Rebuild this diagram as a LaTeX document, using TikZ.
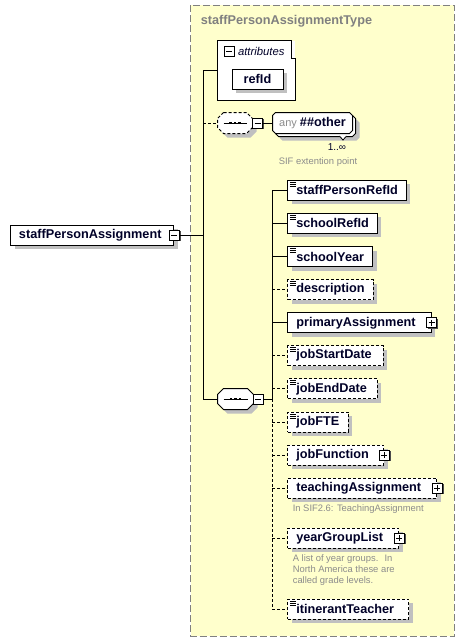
\documentclass[tikz,border=0pt]{standalone}
\usepackage{fontspec}
\setmainfont{Liberation Sans}
\usepackage{tikz}
\usetikzlibrary{positioning,shadows}
\definecolor{typeyellow}{RGB}{255,255,204}
\definecolor{framegray}{RGB}{128,128,128}
\definecolor{notegray}{RGB}{140,140,140}
\definecolor{shadowgray}{RGB}{192,192,192}
\definecolor{elemtext}{RGB}{0,0,40}
\newcommand\elemfont{\fontsize{12.7}{15}\selectfont\bfseries}
\newcommand\notefont{\fontsize{9.4}{10.7}\selectfont}
% outline with cut corners round a named node: name, x cut, y cut
\newcommand\chamferpath[3]{([xshift=#2]#1.north west) -- ([xshift=-#2]#1.north east)
  -- ([yshift=-#3]#1.north east) -- ([yshift=#3]#1.south east) -- ([xshift=-#2]#1.south east)
  -- ([xshift=#2]#1.south west) -- ([yshift=#3]#1.south west) -- ([yshift=-#3]#1.north west) -- cycle}
\hyphenpenalty=10000
\tikzset{
  boxshadow/.style={drop shadow={shadow xshift=4pt,shadow yshift=-4pt,fill=shadowgray,opacity=1}},
  elem/.style={draw, fill=white, anchor=west, minimum height=20pt, text width=#1,
    align=left, inner xsep=8.5pt, inner ysep=0pt, font=\elemfont, text=elemtext, boxshadow},
  optelem/.style={elem=#1, dash pattern=on 3pt off 2pt},
  docicon/.style={path picture={
    \foreach \dy in {2,4,6}
      \draw[solid, line width=0.7pt] ([xshift=2pt,yshift=-\dy pt]path picture bounding box.north west) -- ++(6pt,0);}},
  signbox/.style={draw, fill=white, minimum size=10pt, inner sep=0pt, line width=1pt,
    drop shadow={shadow xshift=1.2pt,shadow yshift=-1.2pt,fill=black!70,opacity=1}},
  minusbox/.style={signbox, path picture={
    \draw ([xshift=2pt]path picture bounding box.west) -- ([xshift=-2pt]path picture bounding box.east);}},
  plusbox/.style={signbox, path picture={
    \draw ([xshift=2pt]path picture bounding box.west) -- ([xshift=-2pt]path picture bounding box.east);
    \draw ([yshift=-2pt]path picture bounding box.north) -- ([yshift=2pt]path picture bounding box.south);}},
  slot/.style={minimum width=#1, minimum height=20pt, inner sep=0pt},
  castshadow/.style={fill=shadowgray, transform canvas={shift={(4pt,-4pt)}}},
  optline/.style={dash pattern=on 3pt off 2pt},
  note/.style={anchor=north west, inner sep=0pt, align=left, font=\notefont, text=notegray}
}
\begin{document}
\begin{tikzpicture}[x=1pt, y=-1pt, line width=1pt]
\useasboundingbox (0,0) rectangle (465,641);
% complex type frame
\draw[fill=typeyellow, draw=framegray, dash pattern=on 7pt off 3pt] (190.5,5) rectangle (454,636);
\node[anchor=west, font=\fontsize{12.7}{15}\selectfont\bfseries, text=framegray] (typename) at (197,21.5) {staffPersonAssignmentType};

% root element
\node[elem=146.3] (spa) at (10,235) {staffPersonAssignment};
\node[minusbox] (spamin) at (spa.east) {};

% attributes group
\node[fill=white, minimum width=77pt, minimum height=59pt, inner sep=0pt] (attrs) at (256.5,70.5) {};
\draw (attrs.north west) -- ([xshift=-4pt]attrs.north east) |- ([yshift=-18pt]attrs.north east) -- (attrs.south east) -- (attrs.south west) -- cycle;
\node[minusbox, drop shadow={opacity=0}] (attrmin) at (229,51) {};
\node[anchor=west, inner sep=0pt, font=\fontsize{11.3}{13}\selectfont\itshape, text=elemtext] (attrlabel) at (237.5,51) {attributes};
\node[draw, fill=white, minimum width=51pt, minimum height=20pt, inner sep=0pt, font=\elemfont, text=elemtext, boxshadow] (refid) at (257.5,79) {refId};

% wildcard branch
\node[slot=34pt] (seqa) at (235,123) {};
\fill[castshadow] \chamferpath{seqa}{6pt}{6pt};
\draw[fill=white, optline] \chamferpath{seqa}{6pt}{6pt};
\draw ([xshift=6pt]seqa.west) -- ([xshift=-6pt]seqa.east);
\foreach \dx in {-4.5,0,4.5}
  \fill ([xshift=\dx pt]seqa.center) +(-1.4pt,-1.4pt) rectangle +(1.4pt,1.4pt);
\node[minusbox] (seqamin) at (257.5,123) {};
\node[slot=79pt] (anyback) at (315.5,126) {};
\node[slot=79pt] (any) at (312.5,123) {};
\fill[castshadow] \chamferpath{anyback}{3pt}{3pt};
\draw[fill=white] \chamferpath{anyback}{3pt}{3pt};
\draw[fill=white] \chamferpath{any}{3pt}{3pt};
\node[slot=79pt] (anylabel) at (any) {\fontsize{11}{13}\selectfont\color{notegray}any\ \elemfont\color{elemtext}\#\#other};
\draw[fill=white, line width=0.8pt] ([xshift=24pt,yshift=0.5pt]anyback.south) -- ([xshift=27.5pt,yshift=-3.5pt]anyback.south) -- ([xshift=31pt,yshift=0.5pt]anyback.south);
\node[anchor=center, inner sep=0pt, font=\fontsize{10}{12}\selectfont, text=elemtext] (anycard) at (337,147) {1..∞};
\node[note] (anynote) at (278.3,157) {SIF extention point};

% main sequence
\node[slot=35pt] (seqb) at (235.5,399) {};
\fill[castshadow] \chamferpath{seqb}{6pt}{6pt};
\draw[fill=white] \chamferpath{seqb}{6pt}{6pt};
\draw ([xshift=6pt]seqb.west) -- ([xshift=-6pt]seqb.east);
\foreach \dx in {-4.5,0,4.5}
  \fill ([xshift=\dx pt]seqb.center) +(-1.4pt,-1.4pt) rectangle +(1.4pt,1.4pt);
\node[minusbox] (seqbmin) at (258,399) {};

% child elements
\node[elem=101.4, docicon] (spRefId) at (287.3,190.3) {staffPersonRefId};
\node[elem=72.4, docicon] (schRefId) at (287.3,223.2) {schoolRefId};
\node[elem=68, docicon] (schYear) at (287.3,256.7) {schoolYear};
\node[optelem=68.4, docicon] (descr) at (287.3,289.5) {description};
\node[elem=126.4] (primAssign) at (287.3,322.8) {primaryAssignment};
\node[plusbox] (primAssignPlus) at (primAssign.east) {};
\node[optelem=78.4, docicon] (jobStart) at (287.3,355.7) {jobStartDate};
\node[optelem=72.4, docicon] (jobEnd) at (287.3,388.8) {jobEndDate};
\node[optelem=43.4, docicon] (jobFte) at (287.3,422) {jobFTE};
\node[optelem=79] (jobFunc) at (287.3,455) {jobFunction};
\node[plusbox] (jobFuncPlus) at (jobFunc.east) {};
\node[optelem=132] (teachAssign) at (287.3,488) {teachingAssignment};
\node[plusbox] (teachAssignPlus) at (teachAssign.east) {};
\node[note] (teachNote) at (292.3,504) {In SIF2.6: TeachingAssignment};
\node[optelem=94] (ygList) at (287.3,538) {yearGroupList};
\node[plusbox] (ygListPlus) at (ygList.east) {};
\node[note] (ygNote) at (292.3,554.5) {A list of year groups.~ In\\North America these are\\called grade levels.};
\node[optelem=104, docicon] (itinTeach) at (287.3,609) {itinerantTeacher};

% connectors
\coordinate (trunk) at (203,0);
\coordinate (rail) at (272,0);
\draw (spamin.east) -- (spamin.east -| trunk);
\draw (attrs.west) -| (trunk |- seqb.west) -- (seqb.west);
\draw[optline] (trunk |- seqa.west) -- (seqa.west);
\draw (seqamin.east) -- (any.west);
\draw (seqbmin.east) -- (seqbmin.east -| rail);
\draw (rail |- spRefId.west) -- (rail |- seqbmin.east);
\draw[optline] (rail |- seqbmin.east) -- (rail |- itinTeach.west);
\foreach \n in {spRefId,schRefId,schYear,primAssign}
  \draw (rail |- \n.west) -- (\n.west);
\foreach \n in {descr,jobStart,jobEnd,jobFte,jobFunc,teachAssign,ygList,itinTeach}
  \draw[optline] (rail |- \n.west) -- (\n.west);
\end{tikzpicture}
\end{document}
